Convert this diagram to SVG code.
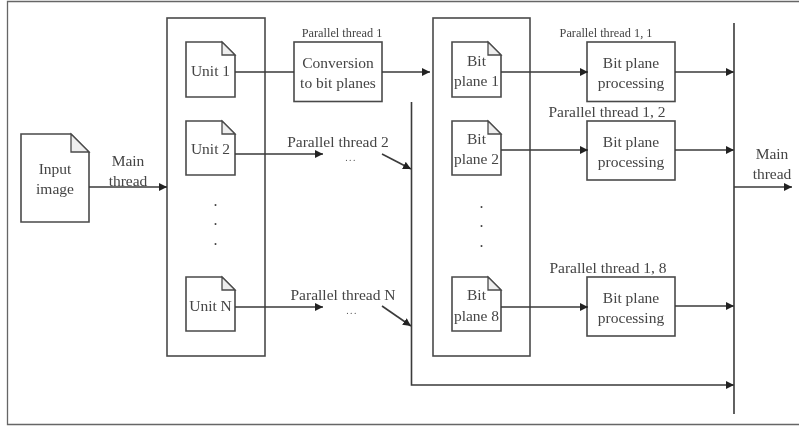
<svg xmlns="http://www.w3.org/2000/svg" width="799" height="427" viewBox="0 0 799 427">
<defs>
<marker id="a" markerUnits="userSpaceOnUse" markerWidth="9" markerHeight="9" refX="8" refY="4" orient="auto"><path d="M0 0L8 4L0 8Z" fill="#222"/></marker>
<filter id="b" x="-5%" y="-5%" width="110%" height="110%"><feGaussianBlur stdDeviation="0.5"/></filter>
</defs>
<style>
.s{fill:#fff;stroke:#4a4a4a;stroke-width:1.6}
.f{fill:#eee;stroke:#4a4a4a;stroke-width:1.3}
.c{fill:none;stroke:#3a3a3a;stroke-width:1.6}
.m{marker-end:url(#a)}
text{font-family:"Liberation Serif","Times New Roman",serif;font-size:15.500px;fill:#444;text-anchor:middle}
.t{font-size:12.300px}
.d{font-size:16px}
.e{font-size:9.500px;letter-spacing:1.500px}
</style>
<rect width="799" height="427" fill="#fff"/>
<g filter="url(#b)">
<path id="frame" d="M799 1.500H7.500V424.500H799" fill="none" stroke="#666" stroke-width="1.300"/>
<g id="input-image"><path class="s" d="M21 134H71L89 152V222H21Z"/><path class="f" d="M71 134V152H89Z"/><text x="55" y="174">Input</text><text x="55" y="194">image</text></g>
<g id="units-box"><rect class="s" x="167" y="18" width="98" height="338"/><text class="d" x="215.500" y="206">.</text><text class="d" x="215.500" y="225">.</text><text class="d" x="215.500" y="245">.</text></g>
<g id="unit-1"><path class="s" d="M186 42H222L235 55V97H186Z"/><path class="f" d="M222 42V55H235Z"/><text x="210.500" y="76">Unit 1</text></g>
<g id="unit-2"><path class="s" d="M186 121H222L235 134V175H186Z"/><path class="f" d="M222 121V134H235Z"/><text x="210.500" y="154">Unit 2</text></g>
<g id="unit-n"><path class="s" d="M186 277H222L235 290V331H186Z"/><path class="f" d="M222 277V290H235Z"/><text x="210.500" y="311">Unit N</text></g>
<g id="conversion"><rect class="s" x="294" y="42" width="88" height="59.500"/><text x="338" y="68">Conversion</text><text x="338" y="88">to bit planes</text></g>
<g id="planes-box"><rect class="s" x="433" y="18" width="97" height="338"/><text class="d" x="481.500" y="208">.</text><text class="d" x="481.500" y="227">.</text><text class="d" x="481.500" y="247">.</text></g>
<g id="plane-1"><path class="s" d="M452 42H488L501 55V97H452Z"/><path class="f" d="M488 42V55H501Z"/><text x="476.500" y="66">Bit</text><text x="476.500" y="86">plane 1</text></g>
<g id="plane-2"><path class="s" d="M452 121H488L501 134V175H452Z"/><path class="f" d="M488 121V134H501Z"/><text x="476.500" y="144">Bit</text><text x="476.500" y="164">plane 2</text></g>
<g id="plane-8"><path class="s" d="M452 277H488L501 290V331H452Z"/><path class="f" d="M488 277V290H501Z"/><text x="476.500" y="300">Bit</text><text x="476.500" y="321">plane 8</text></g>
<g id="proc-1"><rect class="s" x="587" y="42" width="88" height="59.500"/><text x="631" y="68">Bit plane</text><text x="631" y="88">processing</text></g>
<g id="proc-2"><rect class="s" x="587" y="121" width="88" height="59"/><text x="631" y="147">Bit plane</text><text x="631" y="167">processing</text></g>
<g id="proc-8"><rect class="s" x="587" y="277" width="88" height="59"/><text x="631" y="303">Bit plane</text><text x="631" y="323">processing</text></g>
<g id="connectors">
<path class="c m" d="M89 187H167"/>
<path class="c" d="M235 72H294"/>
<path class="c m" d="M235 154H323"/>
<path class="c m" d="M235 307H323"/>
<path class="c m" d="M382 72H430"/>
<path class="c m" d="M382 154L411 169"/>
<path class="c m" d="M382 306L411 326"/>
<path class="c m" d="M411.500 102V385H734"/>
<path class="c m" d="M501 72H588"/>
<path class="c m" d="M501 150H588"/>
<path class="c m" d="M501 307H588"/>
<path class="c m" d="M675 72H734"/>
<path class="c m" d="M675 150H734"/>
<path class="c m" d="M675 306H734"/>
<path class="c" d="M734 23V414"/>
<path class="c m" d="M734 187H792"/>
</g>
<g id="labels">
<text x="128" y="166">Main</text><text x="128" y="186">thread</text>
<text class="t" x="342" y="37">Parallel thread 1</text>
<text x="338" y="147">Parallel thread 2</text>
<text x="343" y="300">Parallel thread N</text>
<text class="e" x="351" y="161">...</text>
<text class="e" x="352" y="314">...</text>
<text class="t" x="606" y="37">Parallel thread 1, 1</text>
<text x="607" y="117">Parallel thread 1, 2</text>
<text x="608" y="273">Parallel thread 1, 8</text>
<text x="772" y="159">Main</text><text x="772" y="179">thread</text>
</g>
</g>
</svg>
